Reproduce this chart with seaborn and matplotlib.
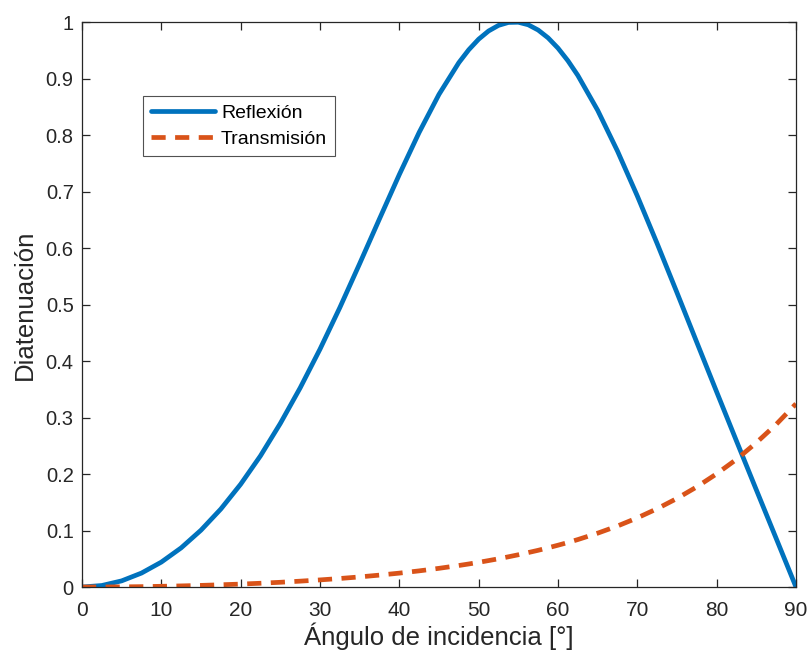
import numpy as np
import pandas as pd
import matplotlib
matplotlib.use("Agg")
import matplotlib.pyplot as plt
import seaborn as sns

# Angle of incidence (degrees)
angulo = [0, 2.5, 5, 7.5, 10, 12.5, 15, 17.5, 20, 22.5, 25, 27.5, 30, 32.5, 35,
          37.5, 40, 42.5, 45, 47.5, 48.75, 50, 51.25, 52.5, 53.75, 55, 56.25,
          57.5, 58.75, 60, 61.25, 62.5, 65, 67.5, 70,
          72.5, 75, 77.5, 80, 82.5, 85, 87.5, 90]

# Diattenuation on reflection
reflexion = [0.0, 0.0027, 0.0109, 0.0247, 0.0441, 0.0693, 0.1006, 0.1380, 0.1819,
             0.2322, 0.2895, 0.3524, 0.4209, 0.4945, 0.5723, 0.6516, 0.7300, 0.8046,
             0.8719, 0.9280, 0.9508, 0.9696, 0.9841, 0.9940, 0.9992, 0.9996, 0.9951,
             0.9858, 0.9720, 0.9538, 0.9315, 0.9055, 0.8438,
             0.7716, 0.6921, 0.6079, 0.5210, 0.4330, 0.3454, 0.2584, 0.1720, 0.0861,
             0.0]

# Diattenuation on transmission
transmision = [0.0, 0.0001, 0.0003, 0.0007, 0.0013, 0.0020, 0.0029, 0.0040, 0.0052,
               0.0067, 0.0084, 0.0104, 0.0126, 0.0151, 0.0179, 0.0211, 0.0246, 0.0286,
               0.0331, 0.0381, 0.0408, 0.0437, 0.0468, 0.0500, 0.0535, 0.0571, 0.0610,
               0.0650, 0.0694, 0.0740, 0.0788, 0.0840, 0.0953,
               0.1080, 0.1224, 0.1386, 0.1568, 0.1773, 0.2004, 0.2260, 0.2554, 0.2878,
               0.3243]

series_names = ["Reflexión", "Transmisión"]
x_ticks = [0, 10, 20, 30, 40, 50, 60, 70, 80, 90]
y_ticks = [0, 0.1, 0.2, 0.3, 0.4, 0.5, 0.6, 0.7, 0.8, 0.9, 1]
y_tick_labels = ["0", "0.1", "0.2", "0.3", "0.4", "0.5", "0.6", "0.7", "0.8", "0.9", "1"]

df = pd.concat([
    pd.DataFrame({"angulo": angulo, "valor": reflexion, "serie": series_names[0]}),
    pd.DataFrame({"angulo": angulo, "valor": transmision, "serie": series_names[1]}),
], ignore_index=True)

sns.set_theme(style="white")
plt.rcParams["font.family"] = ["Liberation Sans", "DejaVu Sans"]

ink = "#262626"
fig = plt.figure(figsize=(8.1, 6.57), dpi=100)
ax = fig.add_axes([0.1012, 0.1065, 0.8815, 0.86])

sns.lineplot(data=df, x="angulo", y="valor", hue="serie", style="serie",
             palette=["#0072BD", "#D95319"], dashes=["", (3.0, 2.0)],
             linewidth=3.4, ax=ax, sort=False)

ax.set_xlim(0, 90)
ax.set_ylim(0, 1)
ax.set_xticks(x_ticks)
ax.set_xticklabels([str(v) for v in x_ticks], fontsize=15)
ax.set_yticks(y_ticks)
ax.set_yticklabels(y_tick_labels, fontsize=14.5)
ax.tick_params(direction="in", length=6, width=0.9, colors=ink,
               top=True, right=True, bottom=True, left=True)
ax.tick_params(axis="x", pad=10)
ax.tick_params(axis="y", pad=6)
for s in ax.spines.values():
    s.set_visible(True)
    s.set_color(ink)
    s.set_linewidth(0.9)

ax.set_xlabel("Ángulo de incidencia [°]", fontsize=18.5, color=ink, labelpad=2)
ax.set_ylabel("Diatenuación", fontsize=18.5, color=ink, labelpad=6)

leg = ax.legend(loc="upper left", bbox_to_anchor=(0.0854, 0.869), frameon=True,
                fontsize=14, handlelength=3.3, handletextpad=0.3,
                borderpad=0.42, labelspacing=0.45, fancybox=False,
                borderaxespad=0)
leg.get_frame().set_edgecolor(ink)
leg.get_frame().set_linewidth(0.8)
for t in leg.get_texts():
    t.set_color("black")
for h in leg.get_lines():
    h.set_linewidth(3.4)

fig.savefig("out.png", dpi=100)
